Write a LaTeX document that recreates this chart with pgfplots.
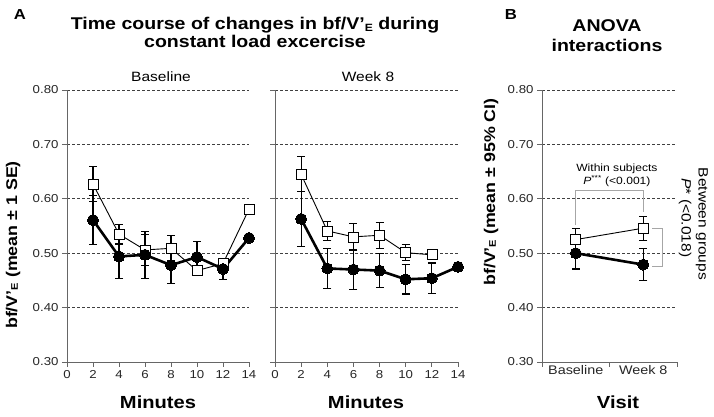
\documentclass[border=0pt]{standalone}
\usepackage{fontspec}
\setmainfont[FakeStretch=1.15]{Liberation Sans}
\usepackage{pgfplots}
\pgfplotsset{compat=1.18}

\newcommand{\bfV}{bf/V\char"0027\raisebox{-0.12ex}{\scalebox{0.62}{E}}}
\newcommand{\fs}[1]{\fontsize{#1}{#1}\selectfont}

\pgfplotsset{
  panel/.style={
    scale only axis, height=272pt,
    ymin=0.3, ymax=0.8, ytick={0.3,0.4,0.5,0.6,0.7,0.8},
    axis x line*=bottom, axis y line*=left,
    axis line style={black!60, line width=0.8pt},
    tick align=outside, major tick length=5pt,
    tick style={black!60, line width=0.8pt},
    ymajorgrids, grid style={black!75, dash pattern=on 3pt off 2pt, line width=0.6pt},
    yticklabel style={/pgf/number format/.cd, fixed, fixed zerofill, precision=2},
    /pgf/number format/assume math mode=true,
    tick label style={font=\fs{11.5}, black!85},
    clip=false,
  },
  ebar/.style={error bars/.cd, y dir=both, y explicit,
    error bar style={line width=1.1pt, black},
    error mark options={rotate=90, line width=1.1pt, mark size=4pt, black}},
  sq/.style={black, line width=0.9pt, mark=square*, mark size=5pt,
    mark options={fill=white, line width=0.7pt}, ebar},
  ci/.style={black, line width=2.6pt, mark=*, mark size=5.5pt,
    mark options={fill=black, line width=0pt}, ebar},
}

\begin{document}
\begin{tikzpicture}
\path[use as bounding box] (0,0) rectangle (714pt,417pt);

% panel A, baseline
\begin{axis}[panel, at={(67pt,55pt)}, anchor=south west, width=182pt,
  xmin=0, xmax=14, xtick={0,2,...,14}]
\addplot[sq] coordinates {
  (2,0.627) +- (0,0.032) (4,0.535) +- (0,0.018) (6,0.506) +- (0,0.028)
  (8,0.509) +- (0,0.023) (10,0.468) +- (0,0.008) (12,0.481) +- (0,0.006)
  (14,0.581) +- (0,0)
};
\addplot[ci] coordinates {
  (2,0.561) +- (0,0.045) (4,0.494) +- (0,0.040) (6,0.497) +- (0,0.043)
  (8,0.478) +- (0,0.033) (10,0.493) +- (0,0.028) (12,0.471) +- (0,0.019)
  (14,0.528) +- (0,0)
};
\end{axis}

% panel A, week 8
\begin{axis}[panel, at={(275pt,55pt)}, anchor=south west, width=183pt,
  xmin=0, xmax=14, xtick={0,2,...,14}, yticklabels={}]
\addplot[sq] coordinates {
  (2,0.645) +- (0,0.032) (4,0.541) +- (0,0.018) (6,0.530) +- (0,0.025)
  (8,0.533) +- (0,0.024) (10,0.501) +- (0,0.015) (12,0.497) +- (0,0)
};
\addplot[ci] coordinates {
  (2,0.563) +- (0,0.051) (4,0.472) +- (0,0.037) (6,0.470) +- (0,0.037)
  (8,0.468) +- (0,0.031) (10,0.452) +- (0,0.027) (12,0.454) +- (0,0.028)
  (14,0.475) +- (0,0)
};
\end{axis}

% panel B
\begin{axis}[panel, at={(542pt,55pt)}, anchor=south west, width=135pt,
  xmin=0, xmax=2, xtick={0,1,2}, xticklabels={},
  extra x ticks={0.5,1.5}, extra x tick labels={Baseline,Week 8},
  extra x tick style={major tick length=0pt, grid=none,
    tick label style={font=\fs{12.5}}}]
\addplot[sq] coordinates {(0.5,0.525) +- (0,0.021) (1.5,0.546) +- (0,0.022)};
\addplot[ci] coordinates {(0.5,0.500) +- (0,0.029) (1.5,0.479) +- (0,0.029)};
\draw[black!35, line width=0.9pt] (axis cs:0.5,0.552) |- (axis cs:1.5,0.616) -- (axis cs:1.5,0.576);
\draw[black!35, line width=0.9pt] (axis cs:1.63,0.546) -| (axis cs:1.78,0.476) -- (axis cs:1.63,0.476);
\node[font=\fs{10.5}] at (axis cs:1.11,0.655) {Within subjects};
\node[font=\fs{10.5}] at (axis cs:1.11,0.632) {\textit{P}\textsuperscript{***} (<0.001)};
\node[rotate=-90, font=\fs{13.5}] at (axis cs:2.37,0.554) {Between groups};
\node[rotate=-90, font=\fs{13.5}] at (axis cs:2.12,0.565) {\textit{P}* (<0.018)};
\end{axis}

% titles and labels
\node[font=\bfseries\fs{14.5}, anchor=base] at (20pt,397pt) {A};
\node[font=\bfseries\fs{14.5}, anchor=base] at (511pt,397pt) {B};
\node[font=\bfseries\fs{17}, anchor=base] at (255pt,387pt) {Time course of changes in \bfV\ during};
\node[font=\bfseries\fs{17}, anchor=base] at (255pt,369pt) {constant load excercise};
\node[font=\bfseries\fs{17}, anchor=base] at (607pt,385pt) {ANOVA};
\node[font=\bfseries\fs{17}, anchor=base] at (607pt,365pt) {interactions};
\node[font=\fs{13.5}, anchor=base] at (161pt,335pt) {Baseline};
\node[font=\fs{13.5}, anchor=base] at (368pt,335pt) {Week 8};
\node[font=\bfseries\fs{17.5}, anchor=base] at (158pt,8pt) {Minutes};
\node[font=\bfseries\fs{17.5}, anchor=base] at (366pt,8pt) {Minutes};
\node[font=\bfseries\fs{17.5}, anchor=base] at (618pt,8pt) {Visit};
\node[rotate=90, font=\bfseries\fs{15.5}] at (13pt,172pt) {\bfV\ (mean ± 1 SE)};
\node[rotate=90, font=\bfseries\fs{15.5}] at (491pt,225pt) {\bfV\ (mean ± 95\% CI)};
\end{tikzpicture}
\end{document}
